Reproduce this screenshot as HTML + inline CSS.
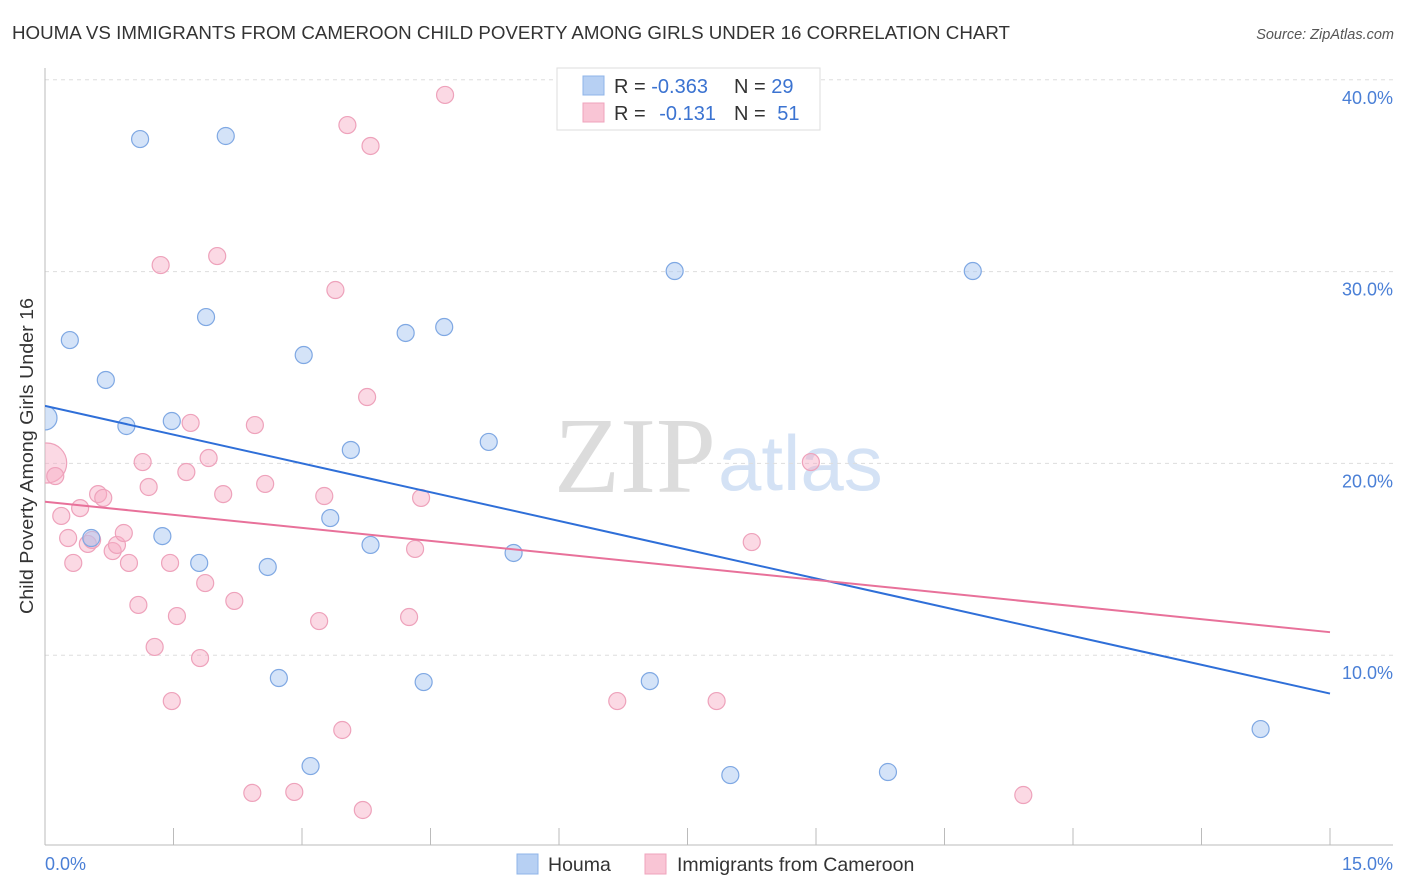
<!DOCTYPE html>
<html><head><meta charset="utf-8"><style>
body{margin:0;background:#fff;font-family:"Liberation Sans",sans-serif;}
svg{display:block}
</style></head><body>
<svg width="1406" height="892">
<text x="12" y="39" font-size="18" fill="#333" textLength="998" lengthAdjust="spacingAndGlyphs">HOUMA VS IMMIGRANTS FROM CAMEROON CHILD POVERTY AMONG GIRLS UNDER 16 CORRELATION CHART</text>
<text x="1394" y="39" font-size="14.5" fill="#555" font-style="italic" text-anchor="end">Source: ZipAtlas.com</text>
<text x="716" y="492" font-size="108" fill="#dcdcdc" text-anchor="end" font-family="Liberation Serif,serif">ZIP</text>
<text x="718" y="490" font-size="78" fill="#d4e2f5">atlas</text>
<g id="grid"></g>
<g id="axes"></g>
<defs><clipPath id="pc"><rect x="45" y="60" width="1360" height="785"/></clipPath></defs>
<g id="marks" clip-path="url(#pc)"></g>
<text x="33" y="456" font-size="18" fill="#333" text-anchor="middle" textLength="316" lengthAdjust="spacingAndGlyphs" transform="rotate(-90 33 456)">Child Poverty Among Girls Under 16</text>
<text x="45" y="870" font-size="18" fill="#4a7fd6">0.0%</text>
<text x="1393" y="870" font-size="18" fill="#4a7fd6" text-anchor="end">15.0%</text>
<g>
<rect x="557" y="68" width="263" height="62" fill="#fff" stroke="#ddd"/>
<rect x="583" y="76" width="21" height="19" fill="#b7d0f3" stroke="#8fb4e8"/>
<rect x="583" y="103" width="21" height="19" fill="#f9c5d5" stroke="#efa3bc"/>
<text x="614" y="93" font-size="20" fill="#333">R = <tspan fill="#3b73d1">-0.363</tspan></text>
<text x="734" y="93" font-size="20" fill="#333">N = <tspan fill="#3b73d1">29</tspan></text>
<text x="614" y="120" font-size="20" fill="#333">R = <tspan fill="#3b73d1" dx="8">-0.131</tspan></text>
<text x="734" y="120" font-size="20" fill="#333">N = <tspan fill="#3b73d1" dx="6">51</tspan></text>
</g>
<g>
<rect x="517" y="854" width="21" height="20" fill="#b7d0f3" stroke="#8fb4e8"/>
<text x="548" y="871" font-size="19.5" fill="#333">Houma</text>
<rect x="645" y="854" width="21" height="20" fill="#f9c5d5" stroke="#efa3bc"/>
<text x="677" y="871" font-size="19.5" fill="#333">Immigrants from Cameroon</text>
</g>
</svg>
<script>
const yTicks=[10,20,30,40];
const yTickLabels=["10.0%","20.0%","30.0%","40.0%"];
const houmaX=[0.00,0.29,0.71,1.11,0.95,0.54,1.37,1.48,1.80,1.88,2.11,2.60,2.73,3.02,3.10,3.33,3.57,3.80,4.21,4.42,4.66,5.18,5.47,7.06,7.35,8.00,9.84,10.83,14.19];
const houmaY=[22.37,26.43,24.35,36.91,21.95,16.11,16.21,22.21,14.81,27.63,37.07,14.60,8.81,25.65,4.22,17.15,20.70,15.75,26.80,8.60,27.11,21.12,15.33,8.65,30.03,3.75,3.91,30.03,6.15];
const camX=[0.02,0.12,0.19,0.27,0.33,0.41,0.50,0.62,0.68,0.55,0.79,0.84,0.92,0.98,1.09,1.14,1.21,1.28,1.35,1.46,1.48,1.54,1.65,1.70,1.81,1.87,1.91,2.01,2.08,2.21,2.42,2.45,2.57,2.91,3.20,3.26,3.39,3.47,3.53,3.71,3.76,3.80,4.25,4.32,4.39,4.67,6.68,7.84,8.25,8.94,11.42];
const camY=[20.02,19.34,17.26,16.11,14.81,17.67,15.80,18.40,18.20,16.01,15.43,15.75,16.37,14.81,12.62,20.07,18.77,10.43,30.34,14.81,7.61,12.04,19.55,22.11,9.85,13.76,20.28,30.81,18.40,12.83,2.82,22.00,18.93,2.87,11.78,18.30,29.04,6.10,37.64,1.93,23.46,36.55,11.99,15.54,18.20,39.21,7.61,7.61,15.90,20.07,2.71];
const houmaTrend=[23.0,8.0];
const camTrend=[18.0,11.2];
const NS="http://www.w3.org/2000/svg";
const xs=v=>45+v*(1285/15);
const ys=v=>847-v*19.18;
function mk(t,a,p){const e=document.createElementNS(NS,t);for(const k in a)e.setAttribute(k,a[k]);p.appendChild(e);return e;}
const grid=document.getElementById('grid'),axes=document.getElementById('axes'),marks=document.getElementById('marks');
yTicks.forEach((t,i)=>{
const l=mk('line',{x1:45,x2:1393,y1:ys(t),y2:ys(t),stroke:'#ddd','stroke-dasharray':'4,4'},grid);


const tx=mk('text',{x:1393,y:ys(t)+24,'font-size':18,fill:'#4a7fd6','text-anchor':'end'},axes);
tx.textContent=yTickLabels[i];


});
const ax=mk('line',{x1:45,x2:1393,y1:845,y2:845,stroke:'#bbb'},axes);


const ay=mk('line',{x1:45,x2:45,y1:68,y2:845,stroke:'#bbb'},axes);


for(let i=1;i<=10;i++){const t=mk('line',{x1:xs(i*1.5),x2:xs(i*1.5),y1:828,y2:845,stroke:'#bbb'},axes);

}
function dots(X,Y,fill,stroke,name,big){X.forEach((x,i)=>{const c=mk('circle',{cx:xs(x),cy:ys(Y[i]),r:i===0?big:8.5,fill:fill,stroke:stroke,'stroke-width':1.2},marks);

});}
dots(camX,camY,'rgba(246,170,195,0.45)','#eea2bb','cameroon-point',20);
dots(houmaX,houmaY,'rgba(170,200,242,0.5)','#7fa8e3','houma-point',12);
const tb=mk('line',{x1:xs(0),y1:ys(houmaTrend[0]),x2:xs(15),y2:ys(houmaTrend[1]),stroke:'#2f6fd8','stroke-width':2},marks);


const tp=mk('line',{x1:xs(0),y1:ys(camTrend[0]),x2:xs(15),y2:ys(camTrend[1]),stroke:'#e8719a','stroke-width':2},marks);


</script>
</body></html>
